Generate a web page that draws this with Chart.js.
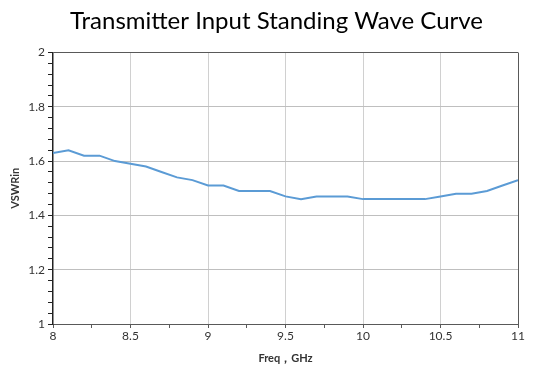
<!DOCTYPE html>
<html>
<head>
<meta charset="utf-8">
<script src="https://cdn.jsdelivr.net/npm/chart.js@4/dist/chart.umd.min.js"></script>
<style>
  html, body { margin: 0; padding: 0; background: #fff; }
  #wrap { width: 533px; height: 370px; }
</style>
</head>
<body>
<div id="wrap"><canvas id="c" width="533" height="370"></canvas></div>
<script>
const freqs = [8.0, 8.1, 8.2, 8.3, 8.4, 8.5, 8.6, 8.7, 8.8, 8.9, 9.0, 9.1, 9.2, 9.3, 9.4, 9.5, 9.6, 9.7, 9.8, 9.9, 10.0, 10.1, 10.2, 10.3, 10.4, 10.5, 10.6, 10.7, 10.8, 10.9, 11.0];
const vswr = [1.63, 1.64, 1.62, 1.62, 1.60, 1.59, 1.58, 1.56, 1.54, 1.53, 1.51, 1.51, 1.49, 1.49, 1.49, 1.47, 1.46, 1.47, 1.47, 1.47, 1.46, 1.46, 1.46, 1.46, 1.46, 1.47, 1.48, 1.48, 1.49, 1.51, 1.53];
const xMajorTicks = [8, 8.5, 9, 9.5, 10, 10.5, 11];
const yMajorTicks = [1, 1.2, 1.4, 1.6, 1.8, 2];
const chartTitle = 'Transmitter Input Standing Wave Curve';
const xTitle = 'Freq，GHz';
const yTitle = 'VSWRin';

const isMajor = (v, list) => list.some(t => Math.abs(t - v) < 1e-6);

new Chart(document.getElementById('c'), {
  type: 'line',
  data: {
    datasets: [{
      data: freqs.map((f, i) => ({ x: f, y: vswr[i] })),
      borderColor: 'rgb(91,155,213)',
      borderWidth: 2,
      pointRadius: 0,
      tension: 0,
      fill: false
    }]
  },
  options: {
    responsive: false,
    animation: false,
    layout: { padding: { left: 20, right: 0, top: 0, bottom: 0 } },
    plugins: {
      legend: { display: false },
      tooltip: { enabled: false },
      title: {
        display: true,
        text: chartTitle,
        color: '#000',
        font: { family: 'Lato', size: 24, weight: 'normal' },
        padding: { top: 7, bottom: 16.7 }
      }
    },
    scales: {
      x: {
        type: 'linear',
        min: 8, max: 11,
        afterFit: s => { s.height = 46; },
        afterBuildTicks: s => {
          const t = [];
          for (let i = 0; i <= 12; i++) t.push({ value: 8 + i * 0.25 });
          s.ticks = t;
        },
        ticks: {
          autoSkip: false,
          maxRotation: 0,
          padding: 1,
          color: '#333',
          font: { family: 'Lato', size: 12 },
          callback: v => isMajor(v, xMajorTicks) ? String(v) : ''
        },
        grid: {
          drawTicks: true,
          tickLength: 4,
          lineWidth: 1,
          color: c => {
            const v = c.tick ? c.tick.value : null;
            if (v === null) return 'transparent';
            if (Math.abs(v - 11) < 1e-6) return '#595959';
            if (Math.abs(v - 8) < 1e-6) return 'transparent';
            return isMajor(v, xMajorTicks) ? '#d0d0d0' : 'transparent';
          },
          tickColor: '#595959'
        },
        border: { display: true, color: '#595959', width: 1 },
        title: {
          display: true,
          text: xTitle,
          color: '#333',
          font: { family: 'Lato', size: 11, weight: 'bold' },
          padding: { top: 0, bottom: 5 }
        }
      },
      y: {
        type: 'linear',
        min: 1, max: 2,
        afterFit: s => { s.width = 33; },
        afterBuildTicks: s => {
          const t = [];
          for (let i = 0; i <= 25; i++) t.push({ value: 1 + i * 0.04 });
          s.ticks = t;
        },
        ticks: {
          autoSkip: false,
          padding: 3,
          color: '#333',
          font: { family: 'Lato', size: 12 },
          callback: v => isMajor(v, yMajorTicks) ? String(Math.round(v * 10) / 10) : ''
        },
        grid: {
          drawTicks: true,
          tickLength: 5,
          lineWidth: 1,
          color: c => {
            const v = c.tick ? c.tick.value : null;
            if (v === null) return 'transparent';
            if (Math.abs(v - 2) < 1e-6) return '#595959';
            if (Math.abs(v - 1) < 1e-6) return 'transparent';
            return isMajor(v, yMajorTicks) ? '#bfbfbf' : 'transparent';
          },
          tickColor: '#222'
        },
        border: { display: true, color: '#222', width: 1.5 },
        title: {
          display: true,
          text: yTitle,
          color: '#333',
          font: { family: 'Lato', size: 11, weight: 'bold' },
          padding: { top: -11.6, bottom: 0 }
        }
      },
      yRightSpacer: {
        type: 'linear',
        position: 'right',
        min: 1, max: 2,
        afterFit: s => { s.width = 15; },
        ticks: { display: false },
        grid: { display: false, drawTicks: false },
        border: { display: false },
        title: { display: false }
      }
    }
  }
});
</script>
</body>
</html>
